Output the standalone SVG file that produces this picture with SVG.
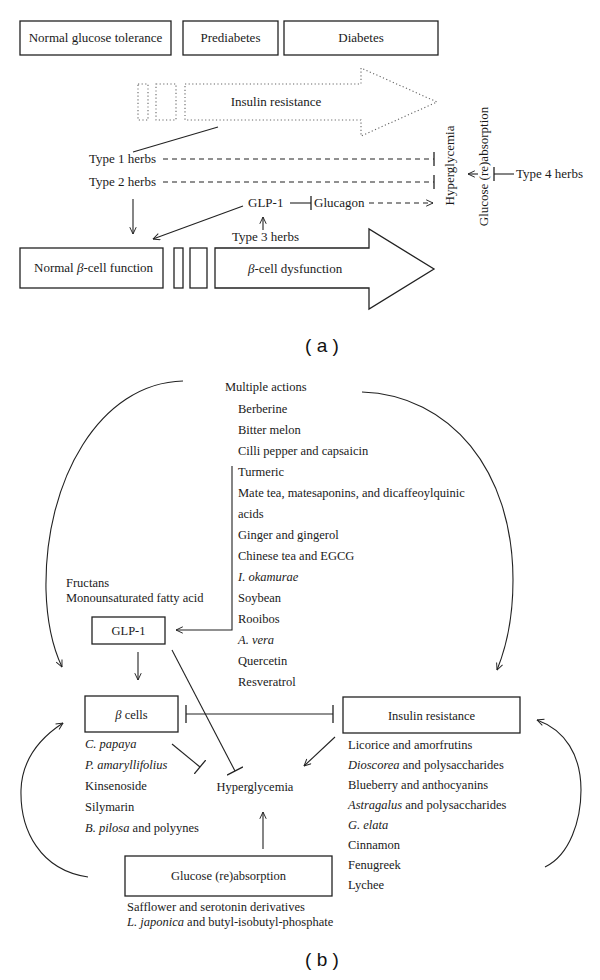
<svg xmlns="http://www.w3.org/2000/svg" width="600" height="980" viewBox="0 0 600 980">
<style>
text{font-family:"Liberation Serif","Times New Roman",serif;fill:#1a1a1a}
.a{font-size:13px}
.b{font-size:12.5px}
.lbl{font-family:"Liberation Sans",Arial,sans-serif;font-size:19px;fill:#111}
.box{fill:#fff;stroke:#222;stroke-width:1.3}
.ln{fill:none;stroke:#222;stroke-width:1.1}
.dash{fill:none;stroke:#222;stroke-width:1.1;stroke-dasharray:5 4}
.dot{fill:none;stroke:#666;stroke-width:1.1;stroke-dasharray:1.2 2.4}
.i{font-style:italic}
</style>
<defs>
<marker id="arr" viewBox="0 0 10 10" refX="9.5" refY="5" markerWidth="8" markerHeight="8" markerUnits="userSpaceOnUse" orient="auto"><path d="M1,1 L9.5,5 L1,9" fill="none" stroke="#222" stroke-width="1.2"/></marker>
<marker id="teeA" viewBox="0 0 4 14" refX="2" refY="7" markerWidth="4" markerHeight="14" markerUnits="userSpaceOnUse" orient="auto"><path d="M2,0 V14" stroke="#222" stroke-width="1.3"/></marker>
<marker id="teeB" viewBox="0 0 4 18" refX="2" refY="9" markerWidth="4" markerHeight="18" markerUnits="userSpaceOnUse" orient="auto"><path d="M2,0 V18" stroke="#222" stroke-width="1.3"/></marker>
</defs>

<!-- ===== Part (a) ===== -->
<g id="ngt"><rect class="box" x="20" y="21" width="151" height="34"/><text class="a" x="95.5" y="42" text-anchor="middle">Normal glucose tolerance</text></g>
<g id="prediabetes"><rect class="box" x="183" y="21" width="95" height="34"/><text class="a" x="230.5" y="42" text-anchor="middle">Prediabetes</text></g>
<g id="diabetes"><rect class="box" x="284" y="21" width="154" height="34"/><text class="a" x="361" y="42" text-anchor="middle">Diabetes</text></g>

<g id="insulin-resistance-a">
<rect class="dot" x="138" y="84" width="10" height="36"/>
<rect class="dot" x="156" y="84" width="20" height="36"/>
<path class="dot" d="M185,84 H361 V68 L437,102 L361,136 V120 H185 Z"/>
<text class="a" x="276" y="106" text-anchor="middle">Insulin resistance</text>
</g>

<g id="type1"><text class="a" x="89" y="163">Type 1 herbs</text></g>
<g id="type2"><text class="a" x="89" y="186">Type 2 herbs</text></g>
<g id="glp1-a"><text class="a" x="248" y="207">GLP-1</text></g>
<g id="glucagon"><text class="a" x="314" y="207">Glucagon</text></g>
<g id="type3"><text class="a" x="232" y="241">Type 3 herbs</text></g>
<g id="hyper-a"><text class="a" transform="translate(454,165.5) rotate(-90)" text-anchor="middle">Hyperglycemia</text></g>
<g id="glucose-a"><text class="a" transform="translate(488,166.5) rotate(-90)" text-anchor="middle">Glucose (re)absorption</text></g>
<g id="type4"><text class="a" x="516" y="178">Type 4 herbs</text></g>

<g id="normal-beta"><rect class="box" x="20" y="248" width="143" height="40"/><text class="a" x="34" y="272">Normal <tspan class="i">β</tspan>-cell function</text></g>
<g id="beta-dys">
<rect class="box" x="174" y="248" width="9" height="40"/>
<rect class="box" x="190" y="248" width="17" height="40"/>
<path class="box" d="M215,248 H369 V229 L434,269 L369,309 V288 H215 Z"/>
<text class="a" x="248" y="273"><tspan class="i">β</tspan>-cell dysfunction</text>
</g>

<g id="connectors-a">
<path class="ln" d="M133,152 L218,127"/>
<path class="dash" d="M163,159 H434" marker-end="url(#teeA)"/>
<path class="dash" d="M163,182 H434" marker-end="url(#teeA)"/>
<path class="ln" d="M133,199 V234" marker-end="url(#arr)"/>
<path class="ln" d="M243,206 L153,239" marker-end="url(#arr)"/>
<path class="ln" d="M263,230 V217" marker-end="url(#arr)"/>
<path class="ln" d="M290,203 H311" marker-end="url(#teeA)"/>
<path class="dash" d="M369,203 H433" marker-end="url(#arr)"/>
<path class="ln" d="M478,174 H468" marker-end="url(#arr)"/>
<path class="ln" d="M514,174 H494" marker-end="url(#teeA)"/>
</g>

<g id="label-a"><text class="lbl" x="322" y="352" text-anchor="middle">( a )</text></g>

<!-- ===== Part (b) ===== -->
<g id="multiple-actions">
<text class="b" x="225" y="391">Multiple actions</text>
<text class="b" x="238" y="413">Berberine</text>
<text class="b" x="238" y="434">Bitter melon</text>
<text class="b" x="238" y="455">Cilli pepper and capsaicin</text>
<text class="b" x="238" y="476">Turmeric</text>
<text class="b" x="238" y="497">Mate tea, matesaponins, and dicaffeoylquinic</text>
<text class="b" x="238" y="518">acids</text>
<text class="b" x="238" y="539">Ginger and gingerol</text>
<text class="b" x="238" y="560">Chinese tea and EGCG</text>
<text class="b i" x="238" y="581">I. okamurae</text>
<text class="b" x="238" y="602">Soybean</text>
<text class="b" x="238" y="623">Rooibos</text>
<text class="b i" x="238" y="644">A. vera</text>
<text class="b" x="238" y="665">Quercetin</text>
<text class="b" x="238" y="686">Resveratrol</text>
</g>

<g id="glp1-sources">
<text class="b" x="66" y="587">Fructans</text>
<text class="b" x="66" y="602">Monounsaturated fatty acid</text>
</g>
<g id="glp1-b"><rect class="box" x="92" y="617" width="73" height="27"/><text class="b" x="128.5" y="635" text-anchor="middle">GLP-1</text></g>

<g id="beta-cells"><rect class="box" x="85" y="696" width="93" height="36"/><text class="b" x="131.5" y="719" text-anchor="middle"><tspan class="i">β</tspan> cells</text></g>
<g id="beta-herbs">
<text class="b i" x="85" y="748">C. papaya</text>
<text class="b i" x="85" y="769">P. amaryllifolius</text>
<text class="b" x="85" y="790">Kinsenoside</text>
<text class="b" x="85" y="811">Silymarin</text>
<text class="b" x="85" y="832"><tspan class="i">B. pilosa</tspan> and polyynes</text>
</g>

<g id="insulin-resistance-b"><rect class="box" x="343" y="697" width="177" height="36"/><text class="b" x="431.5" y="720" text-anchor="middle">Insulin resistance</text></g>
<g id="ir-herbs">
<text class="b" x="348" y="749">Licorice and amorfrutins</text>
<text class="b" x="348" y="769"><tspan class="i">Dioscorea</tspan> and polysaccharides</text>
<text class="b" x="348" y="789">Blueberry and anthocyanins</text>
<text class="b" x="348" y="809"><tspan class="i">Astragalus</tspan> and polysaccharides</text>
<text class="b i" x="348" y="829">G. elata</text>
<text class="b" x="348" y="849">Cinnamon</text>
<text class="b" x="348" y="869">Fenugreek</text>
<text class="b" x="348" y="889">Lychee</text>
</g>

<g id="hyper-b"><text class="b" x="255" y="791" text-anchor="middle">Hyperglycemia</text></g>

<g id="glucose-b"><rect class="box" x="125" y="856" width="207" height="40"/><text class="b" x="228.5" y="880" text-anchor="middle">Glucose (re)absorption</text></g>
<g id="glucose-herbs">
<text class="b" x="127" y="911">Safflower and serotonin derivatives</text>
<text class="b" x="127" y="926"><tspan class="i">L. japonica</tspan> and butyl-isobutyl-phosphate</text>
</g>

<g id="connectors-b">
<path class="ln" d="M232,466 V630 H176" marker-end="url(#arr)"/>
<path class="ln" d="M138,652 V680" marker-end="url(#arr)"/>
<path class="ln" d="M172,650 L235,771" marker-end="url(#teeB)"/>
<path class="ln" d="M186,714 H333" marker-start="url(#teeB)" marker-end="url(#teeB)"/>
<path class="ln" d="M172,744 L200,767" marker-end="url(#teeB)"/>
<path class="ln" d="M335,737 L304,766" marker-end="url(#arr)"/>
<path class="ln" d="M263,849 V812" marker-end="url(#arr)"/>
<path class="ln" d="M183,381 C100,383 44,480 46,590 C47,625 53,648 62,667" marker-end="url(#arr)"/>
<path class="ln" d="M362,392 C450,395 513,470 513,580 C513,620 506,648 497,670" marker-end="url(#arr)"/>
<path class="ln" d="M88,877 C40,870 20,830 21,790 C22,760 40,738 63,723" marker-end="url(#arr)"/>
<path class="ln" d="M545,867 C570,855 581,820 581,790 C581,755 565,730 537,720" marker-end="url(#arr)"/>
</g>

<g id="label-b"><text class="lbl" x="322" y="966" text-anchor="middle">( b )</text></g>
</svg>
